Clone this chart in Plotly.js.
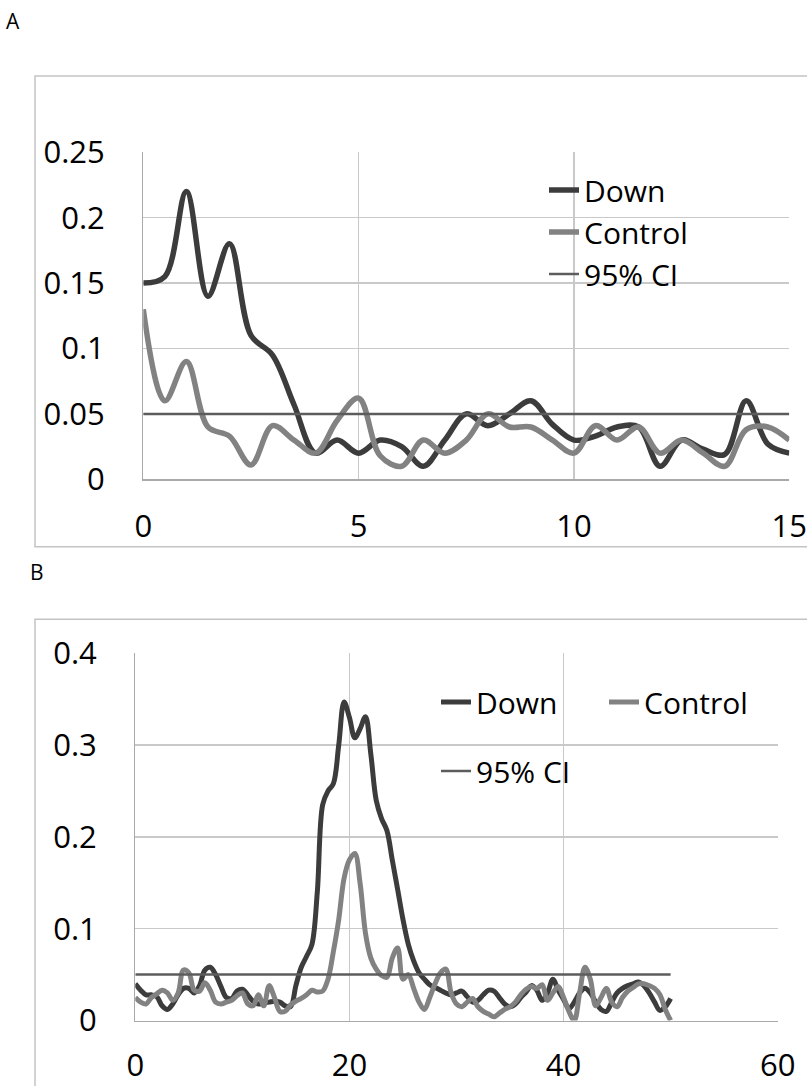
<!DOCTYPE html>
<html>
<head>
<meta charset="utf-8">
<script src="https://cdn.plot.ly/plotly-3.0.1.min.js"></script>
<style>html,body{margin:0;padding:0;background:#fff;}#chart{width:807px;height:1086px;}</style>
</head>
<body>
<div id="chart"></div>
<script>
// ---------- Panel A data ----------
const xA = [0,0.5,1,1.5,2,2.5,3,3.5,4,4.5,5,5.5,6,6.5,7,7.5,8,8.5,9,9.5,10,10.5,11,11.5,12,12.5,13,13.5,14,14.5,15];
const downA = [0.15,0.155,0.22,0.14,0.18,0.11,0.095,0.057,0.02,0.03,0.02,0.03,0.025,0.01,0.03,0.05,0.041,0.05,0.06,0.042,0.03,0.033,0.04,0.04,0.01,0.03,0.023,0.019,0.06,0.027,0.02];
const controlA = [0.13,0.06,0.09,0.04,0.033,0.011,0.041,0.03,0.02,0.045,0.062,0.018,0.01,0.03,0.02,0.03,0.05,0.04,0.04,0.03,0.02,0.041,0.03,0.04,0.02,0.03,0.02,0.01,0.038,0.04,0.03];
const ciAx = [0,15];
const ciAy = [0.05,0.05];

// ---------- Panel B data ----------
const xB = [0,0.5,1,1.5,2,2.5,3,3.5,4,4.5,
  5,5.5,6,6.5,7,7.5,8,8.5,9,9.5,
  10,10.5,11,11.5,12,12.5,13,13.5,14,14.5,
  15,15.5,16,16.5,17,17.5,18,18.5,19,19.5,
  20,20.5,21,21.5,22,22.5,23,23.5,24,24.5,
  25,25.5,26,26.5,27,27.5,28,28.5,29,29.5,
  30,30.5,31,31.5,32,32.5,33,33.5,34,34.5,
  35,35.5,36,36.5,37,37.5,38,38.5,39,39.5,
  40,40.5,41,41.5,42,42.5,43,43.5,44,44.5,
  45,45.5,46,46.5,47,47.5,48,48.5,49,49.5,
  50];
const downB = [0.040,0.033,0.028,0.028,0.026,0.016,0.012,0.018,0.028,0.035,
  0.035,0.030,0.038,0.055,0.058,0.050,0.037,0.025,0.024,0.032,
  0.034,0.028,0.021,0.018,0.019,0.020,0.021,0.020,0.016,0.015,
  0.038,0.058,0.070,0.083,0.140,0.235,0.250,0.258,0.300,0.347,
  0.330,0.308,0.318,0.331,0.290,0.240,0.220,0.207,0.175,0.143,
  0.110,0.083,0.065,0.052,0.045,0.039,0.036,0.033,0.030,0.028,
  0.030,0.032,0.026,0.020,0.022,0.028,0.033,0.032,0.025,0.018,
  0.015,0.018,0.025,0.031,0.038,0.033,0.022,0.030,0.045,0.033,
  0.023,0.013,0.020,0.030,0.035,0.030,0.020,0.012,0.010,0.020,
  0.030,0.035,0.038,0.040,0.042,0.038,0.030,0.020,0.011,0.015,
  0.024];
const controlB = [0.025,0.020,0.018,0.025,0.029,0.033,0.030,0.022,0.030,0.055,
  0.052,0.033,0.032,0.041,0.033,0.020,0.018,0.020,0.022,0.027,
  0.030,0.018,0.016,0.028,0.016,0.038,0.025,0.010,0.010,0.017,
  0.021,0.024,0.028,0.033,0.031,0.032,0.045,0.075,0.110,0.155,
  0.175,0.182,0.149,0.095,0.068,0.056,0.049,0.047,0.068,0.079,
  0.045,0.050,0.035,0.020,0.012,0.025,0.040,0.052,0.056,0.030,
  0.018,0.015,0.020,0.024,0.015,0.010,0.007,0.004,0.008,0.012,
  0.015,0.020,0.028,0.034,0.037,0.035,0.039,0.022,0.030,0.037,
  0.025,0.010,0.000,0.030,0.058,0.045,0.016,0.025,0.035,0.020,
  0.015,0.025,0.032,0.036,0.040,0.040,0.038,0.035,0.028,0.012,
  0.000];
const ciBx = [0,50];
const ciBy = [0.05,0.05];

const seriesNames = ['Down','Control','95% CI'];
const panelLabels = ['A','B'];

// ---------- styles ----------
const W = 807, H = 1086;
const FONT = 'Open Sans, Lato, sans-serif';
const cDown = '#3c3c3c', cCtrl = '#828282', cCI = '#5c5c5c';
const gridC = '#c9c9c9', axC = '#a9a9a9';
const px = v => v / W;
const py = v => 1 - v / H;

const traces = [
  {x:xA, y:downA, name:seriesNames[0], xaxis:'x', yaxis:'y', legend:'legend', mode:'lines',
   line:{color:cDown, width:5.5, shape:'spline', smoothing:1}},
  {x:xA, y:controlA, name:seriesNames[1], xaxis:'x', yaxis:'y', legend:'legend', mode:'lines',
   line:{color:cCtrl, width:5.5, shape:'spline', smoothing:1}},
  {x:ciAx, y:ciAy, name:seriesNames[2], xaxis:'x', yaxis:'y', legend:'legend', mode:'lines',
   line:{color:cCI, width:2.5}},
  {x:xB, y:downB, name:seriesNames[0], xaxis:'x2', yaxis:'y2', legend:'legend2', mode:'lines',
   line:{color:cDown, width:5, shape:'spline', smoothing:1}},
  {x:xB, y:controlB, name:seriesNames[1], xaxis:'x2', yaxis:'y2', legend:'legend2', mode:'lines',
   line:{color:cCtrl, width:5, shape:'spline', smoothing:1}},
  {x:ciBx, y:ciBy, name:seriesNames[2], xaxis:'x2', yaxis:'y2', legend:'legend3', mode:'lines',
   line:{color:cCI, width:2.5}}
];

const axBase = {
  showgrid:true, gridcolor:gridC, gridwidth:1.3, zeroline:false,
  showline:true, linecolor:axC, linewidth:1.3, ticks:'',
  ticklabeloverflow:'allow',
  tickfont:{family:FONT, size:31, color:'#000'}, fixedrange:true
};

const legFont = {family:FONT, size:30, color:'#000'};

const layout = {
  width:W, height:H,
  margin:{l:0, r:0, t:0, b:0},
  paper_bgcolor:'#fff', plot_bgcolor:'rgba(0,0,0,0)',
  showlegend:true,
  xaxis:Object.assign({}, axBase, {domain:[px(143.3), px(789.3)], range:[0,15], dtick:5, tick0:0, anchor:'y', ticklabelstandoff:19}),
  yaxis:Object.assign({}, axBase, {domain:[py(479.3), py(152.3)], range:[0,0.25], dtick:0.05, tick0:0, anchor:'x', ticklabelstandoff:31}),
  xaxis2:Object.assign({}, axBase, {domain:[px(135.3), px(777.7)], range:[0,60], dtick:20, tick0:0, anchor:'y2', ticklabelstandoff:17}),
  yaxis2:Object.assign({}, axBase, {domain:[py(1020.5), py(653.3)], range:[0,0.4], dtick:0.1, tick0:0, anchor:'x2', ticklabelstandoff:31}),
  legend:{x:px(544), y:py(164), xanchor:'left', yanchor:'top', bgcolor:'rgba(0,0,0,0)', borderwidth:0,
          font:legFont, orientation:'v', tracegroupgap:0},
  legend2:{x:px(436), y:py(676), xanchor:'left', yanchor:'top', bgcolor:'rgba(0,0,0,0)', borderwidth:0,
          font:legFont, orientation:'h', entrywidth:123, entrywidthmode:'pixels'},
  legend3:{x:px(436), y:py(745), xanchor:'left', yanchor:'top', bgcolor:'rgba(0,0,0,0)', borderwidth:0,
          font:legFont, orientation:'v'},
  shapes:[
    {type:'rect', xref:'paper', yref:'paper', x0:px(35), x1:px(815), y0:py(546.7), y1:py(76),
     line:{color:'#c3c3c3', width:1.5}, fillcolor:'rgba(0,0,0,0)', layer:'below'},
    {type:'rect', xref:'paper', yref:'paper', x0:px(35), x1:px(815), y0:py(1100), y1:py(619.3),
     line:{color:'#c3c3c3', width:1.5}, fillcolor:'rgba(0,0,0,0)', layer:'below'}
  ],
  annotations:[
    {text:panelLabels[0], xref:'paper', yref:'paper', x:px(13), y:py(21), xanchor:'center', yanchor:'middle',
     showarrow:false, font:{family:FONT, size:21, color:'#000'}},
    {text:panelLabels[1], xref:'paper', yref:'paper', x:px(36.5), y:py(572), xanchor:'center', yanchor:'middle',
     showarrow:false, font:{family:FONT, size:21, color:'#000'}}
  ]
};

Plotly.newPlot('chart', traces, layout, {staticPlot:true, displayModeBar:false});
</script>
</body>
</html>
